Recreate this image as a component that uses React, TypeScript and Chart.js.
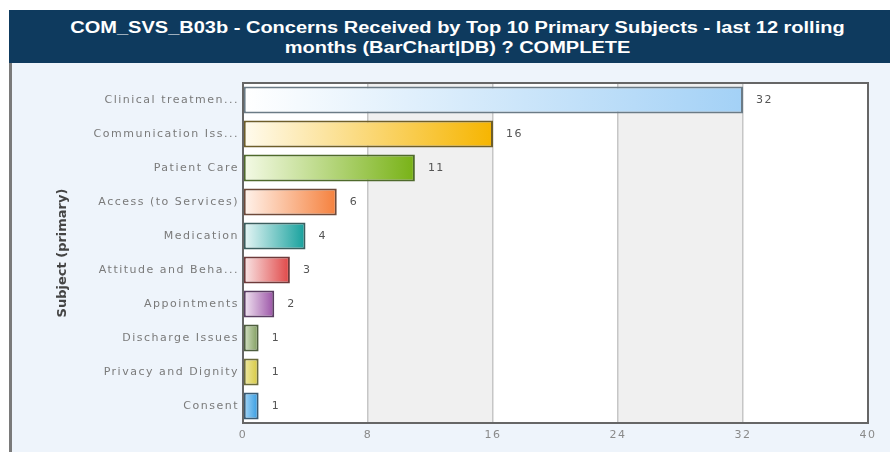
import React, { useEffect, useRef } from "react";
import { Chart, registerables } from "chart.js";

Chart.register(...registerables);

const titleLines = [
  "COM_SVS_B03b - Concerns Received by Top 10 Primary Subjects - last 12 rolling",
  "months (BarChart|DB) ? COMPLETE",
];
const yAxisTitle = "Subject (primary)";
const categories = [
  "Clinical treatmen...",
  "Communication Iss...",
  "Patient Care",
  "Access (to Services)",
  "Medication",
  "Attitude and Beha...",
  "Appointments",
  "Discharge Issues",
  "Privacy and Dignity",
  "Consent",
];
const values = [32, 16, 11, 6, 4, 3, 2, 1, 1, 1];
const xMin = 0;
const xMax = 40;
const xStep = 8;

const barEndColors = [
  "#a3d1f6",
  "#f6b500",
  "#78b216",
  "#f5803c",
  "#14a09c",
  "#e04646",
  "#9a52a6",
  "#7c9a5a",
  "#d6c83c",
  "#309ae2",
];
const barStartColors = [
  "#ffffff",
  "#fffbee",
  "#f4fae6",
  "#fff3ec",
  "#e8f6f6",
  "#f9e6e6",
  "#f2e6f2",
  "#d6e2c6",
  "#efe9a6",
  "#a6d6f6",
];
const barBorderColors = [
  "#6b7b86",
  "#6e5e2a",
  "#4f6a2c",
  "#6e4a3a",
  "#3a5e5e",
  "#6e3a3a",
  "#5a3e62",
  "#4e5e3e",
  "#6a6a3a",
  "#3a5a72",
];

export default function App() {
  const canvasRef = useRef<HTMLCanvasElement | null>(null);

  useEffect(() => {
    const canvas = canvasRef.current;
    if (!canvas) return;

    const bandsPlugin = {
      id: "bands",
      beforeDraw(chart: any) {
        const { ctx, chartArea, scales } = chart;
        if (!chartArea) return;
        (ctx as any).letterSpacing = "1.5px";
        const x = scales.x;
        ctx.save();
        ctx.fillStyle = "#ffffff";
        ctx.fillRect(chartArea.left, chartArea.top, chartArea.right - chartArea.left, chartArea.bottom - chartArea.top);
        ctx.fillStyle = "#f0f0f0";
        for (let v = xMin + xStep; v < xMax; v += 2 * xStep) {
          const a = x.getPixelForValue(v);
          const b = x.getPixelForValue(v + xStep);
          ctx.fillRect(a, chartArea.top, b - a, chartArea.bottom - chartArea.top);
        }
        ctx.restore();
      },
      beforeDatasetsDraw(chart: any) {
        const meta = chart.getDatasetMeta(0);
        const ctx = chart.ctx;
        meta.data.forEach((el: any, i: number) => {
          const x0 = el.base;
          const x1 = el.x;
          if (!isFinite(x0) || !isFinite(x1)) return;
          const g = ctx.createLinearGradient(x0, 0, x1, 0);
          g.addColorStop(0, barStartColors[i]);
          g.addColorStop(1, barEndColors[i]);
          el.options.backgroundColor = g;
        });
      },
      afterDatasetsDraw(chart: any) {
        const { ctx, chartArea } = chart;
        ctx.save();
        ctx.strokeStyle = "#666666";
        ctx.lineWidth = 2;
        ctx.strokeRect(chartArea.left, chartArea.top, chartArea.right - chartArea.left, chartArea.bottom - chartArea.top);
        const meta = chart.getDatasetMeta(0);
        ctx.fillStyle = "#555555";
        ctx.font = "11px 'DejaVu Sans'";
        ctx.textAlign = "left";
        ctx.textBaseline = "middle";
        meta.data.forEach((el: any, i: number) => {
          ctx.fillText(String(chart.data.datasets[0].data[i]), el.x + 13, el.y);
        });
        ctx.restore();
      },
      afterDraw(chart: any) {
        const { ctx, chartArea } = chart;
        ctx.save();
        (ctx as any).letterSpacing = "0px";
        ctx.translate(63, (chartArea.top + chartArea.bottom) / 2);
        ctx.rotate(-Math.PI / 2);
        ctx.fillStyle = "#444444";
        ctx.font = "bold 13px 'DejaVu Sans'";
        ctx.textAlign = "center";
        ctx.textBaseline = "middle";
        ctx.fillText(yAxisTitle, 0, 0);
        ctx.restore();
      },
    };

    const chart = new Chart(canvas, {
      type: "bar",
      data: {
        labels: categories,
        datasets: [
          {
            data: values,
            backgroundColor: barEndColors,
            borderColor: barBorderColors,
            borderWidth: 2,
            borderSkipped: false,
            categoryPercentage: 0.8,
            barPercentage: 1,
          },
        ],
      },
      options: {
        indexAxis: "y",
        responsive: false,
        maintainAspectRatio: false,
        animation: false,
        layout: { padding: { top: 83, right: 22, bottom: 0, left: 0 } },
        plugins: {
          legend: { display: false },
          tooltip: { enabled: false },
          title: { display: false },
        },
        scales: {
          x: {
            min: xMin,
            max: xMax,
            ticks: {
              stepSize: xStep,
              color: "#8a8a8a",
              font: { family: "DejaVu Sans", size: 11 },
              padding: 6,
            },
            grid: { color: "#c6c6c6", lineWidth: 1.5, drawTicks: false },
            border: { display: false },
            afterFit: (s: any) => {
              s.height = 29;
            },
          },
          y: {
            ticks: {
              color: "#7a7a7a",
              font: { family: "DejaVu Sans", size: 11 },
              padding: 4,
              autoSkip: false,
            },
            grid: { display: false, drawTicks: false },
            border: { display: false },
            title: { display: false },
            afterFit: (s: any) => {
              s.width = 243;
            },
          },
        },
      },
      plugins: [bandsPlugin],
    } as any);

    return () => chart.destroy();
  }, []);

  const lineStyle: React.CSSProperties = {
    transform: "scaleX(1.25)",
    transformOrigin: "center",
    whiteSpace: "nowrap",
  };

  return (
    <div style={{ position: "fixed", left: 0, top: 0, width: 890, height: 452, background: "#ffffff", overflow: "hidden" }}>
      <div
        style={{
          position: "absolute",
          left: 9,
          top: 10,
          width: 881,
          height: 53,
          background: "#0e3a5e",
          color: "#ffffff",
          fontFamily: "'Liberation Sans', Arial, sans-serif",
          fontWeight: "bold",
          fontSize: 16,
          lineHeight: "20px",
          textAlign: "center",
          boxSizing: "border-box",
          paddingTop: 8,
          paddingLeft: 16,
        }}
      >
        <div style={lineStyle}>{titleLines[0]}</div>
        <div style={lineStyle}>{titleLines[1]}</div>
      </div>
      <div
        style={{
          position: "absolute",
          left: 9,
          top: 63,
          width: 881,
          height: 389,
          background: "#eef4fb",
          borderLeft: "3px solid #7a7a7a",
          boxSizing: "border-box",
        }}
      />
      <canvas ref={canvasRef} width={890} height={452} style={{ position: "absolute", left: 0, top: 0, width: 890, height: 452 }} />
    </div>
  );
}
